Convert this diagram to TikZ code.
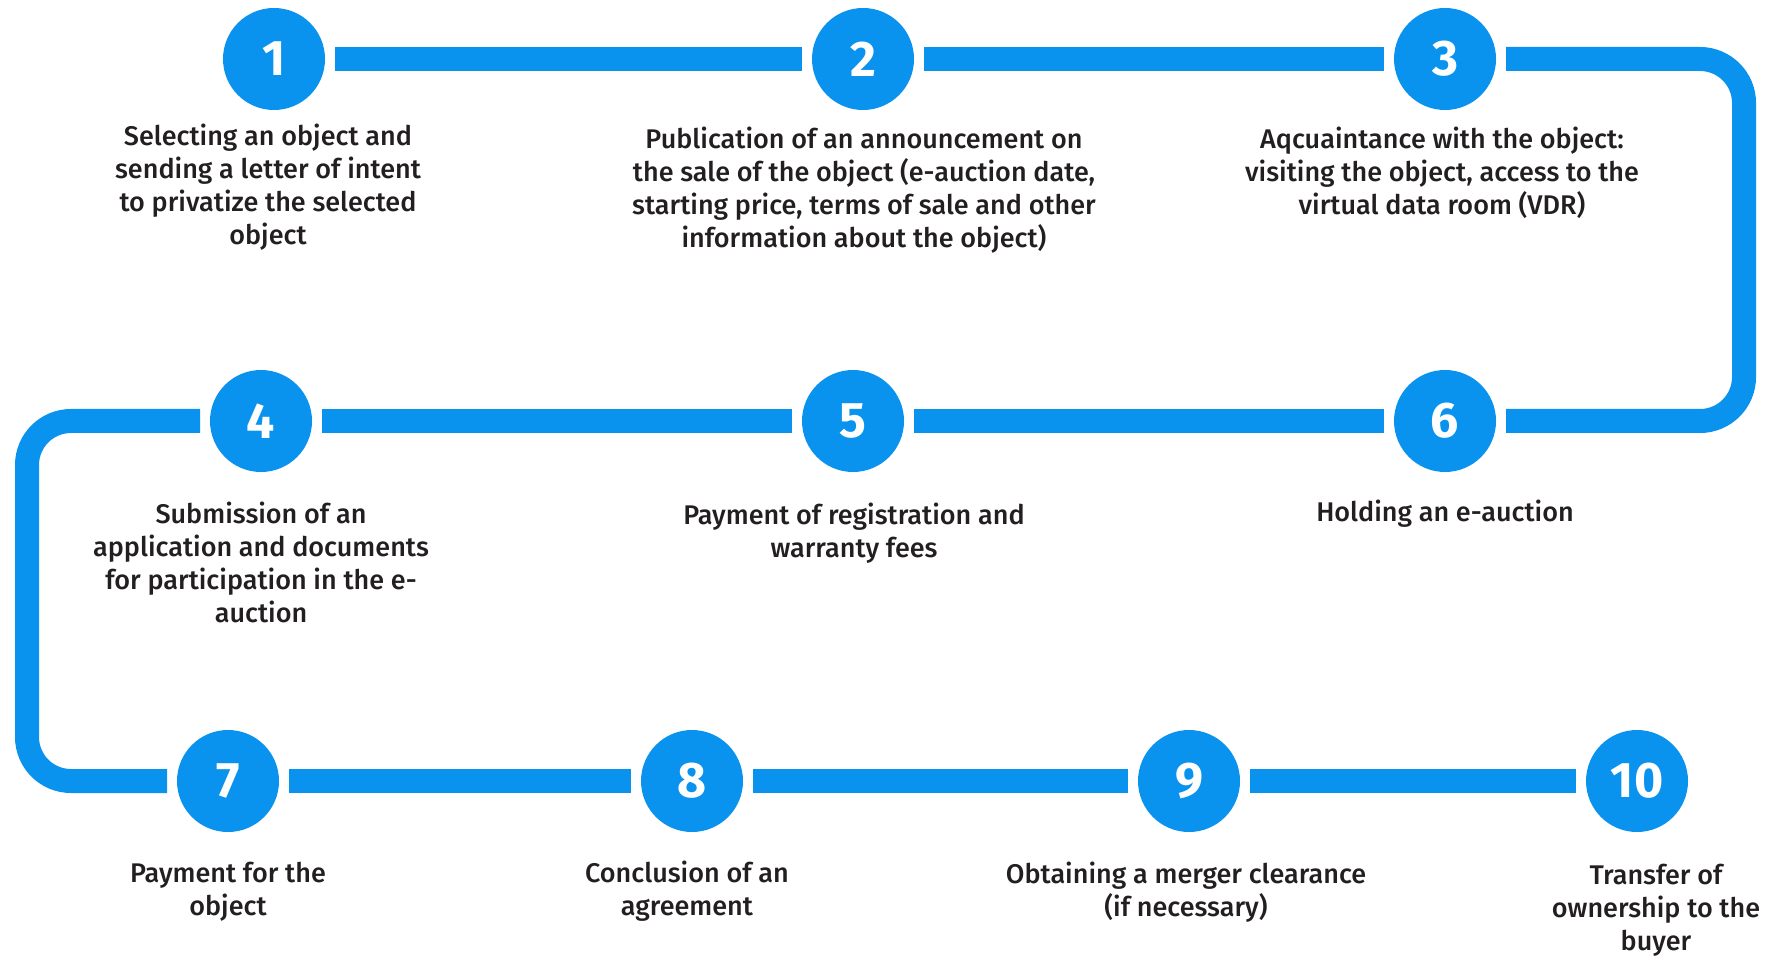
\documentclass[tikz,border=0pt]{standalone}
\usepackage{fontspec}
\setmainfont{Fira Sans Medium}[BoldFont=Fira Sans Bold]
\definecolor{stepblue}{HTML}{0A93EE}
\definecolor{textgray}{HTML}{231F20}
\tikzset{
  stepdot/.style={circle, fill=stepblue, minimum size=51pt, inner sep=0pt, outer sep=5pt,
    text=white, font=\fontsize{25}{30}\selectfont\bfseries},
  steptext/.style={anchor=north, align=center, inner sep=0pt, text=textgray,
    font=\fontsize{13.5}{16.5}\selectfont},
  track/.style={draw=stepblue, line width=12pt, rounded corners=22pt}
}
\begin{document}
\begin{tikzpicture}[x=0.5pt,y=-0.5pt]
\useasboundingbox (0,0) rectangle (1780,956);
% step circles
\foreach \n/\x/\y in {1/274/59, 2/863/59, 3/1445/59,
                      4/261/421, 5/853/421, 6/1445/421,
                      7/228/781, 8/692/781, 9/1189/781, 10/1637/781}
\node[stepdot] (s\n) at (\x,\y) {\n};
% turning points of the track
\coordinate (rtrack) at (1744,240);
\coordinate (ltrack) at (27,600);
% track
\foreach \a/\b in {1/2, 2/3, 5/4, 6/5, 7/8, 8/9, 9/10}
\draw[track] (s\a) -- (s\b);
\draw[track] (s3) -| (rtrack) |- (s6);
\draw[track] (s4) -| (ltrack) |- (s7);
% labels
\node[steptext] (t1) at (268,124) {Selecting an object and\\sending a letter of intent\\to privatize the selected\\object};
\node[steptext] (t2) at (864,127) {Publication of an announcement on\\the sale of the object (e-auction date,\\starting price, terms of sale and other\\information about the object)};
\node[steptext] (t3) at (1442,127) {Aqcuaintance with the object:\\visiting the object, access to the\\virtual data room (VDR)};
\node[steptext] (t4) at (261,502) {Submission of an\\application and documents\\for participation in the e-\\auction};
\node[steptext] (t5) at (854,503) {Payment of registration and\\warranty fees};
\node[steptext] (t6) at (1445,500) {Holding an e-auction};
\node[steptext] (t7) at (228,862) {Payment for the\\object};
\node[steptext] (t8) at (687,861) {Conclusion of an\\agreement};
\node[steptext] (t9) at (1186,862) {Obtaining a merger clearance\\(if necessary)};
\node[steptext] (t10) at (1656,864) {Transfer of\\ownership to the\\buyer};
\end{tikzpicture}
\end{document}
